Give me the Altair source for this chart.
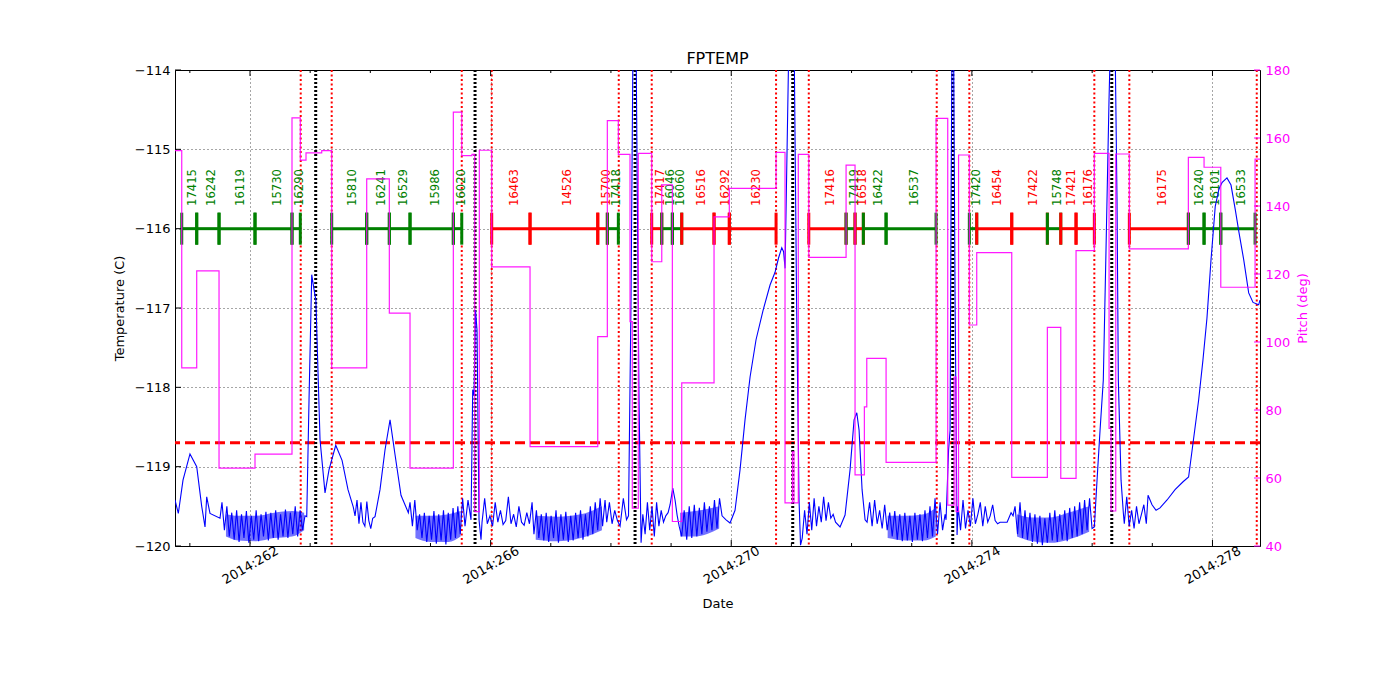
import altair as alt
import pandas as pd
import numpy as np

FONT = "DejaVu Sans"
W, H = 1085, 476

# ---------------- axes ----------------
X_DOMAIN = [260.753, 278.79]
x_major = [262, 266, 270, 274, 278]
x_minor = [261, 263, 264, 265, 267, 268, 269, 271, 272, 273, 275, 276, 277]
temp_ticks = [-120, -119, -118, -117, -116, -115, -114]
pitch_ticks = [40, 60, 80, 100, 120, 140, 160, 180]

# ---------------- reference lines ----------------
red_times = [262.843, 263.358, 265.520, 266.018, 268.130, 268.678, 270.745,
             271.289, 273.416, 273.958, 276.036, 276.618, 278.736]
black_times = [263.092, 265.741, 268.401, 271.022, 273.682, 276.326]
limit_temp = -118.7
seg_level = -116.0
label_level = -115.714

# ---------------- observations ----------------
obs_ids = ["17415", "16242", "16119", "15730", "16290",
           "15810", "16241", "16529", "15986", "16020",
           "16463", "14526", "15700", "17418",
           "17417", "16046", "16060", "16516", "16292", "16230",
           "17416", "17419", "16518", "16422", "16537",
           "17420", "16454", "17422", "15748", "17421", "16176",
           "16175", "16240", "16101", "16533"]
obs_start = [260.865, 261.114, 261.485, 262.083, 262.698,
             263.358, 263.940, 264.316, 264.660, 265.380,
             266.018, 266.655, 267.781, 267.940,
             268.678, 268.845, 269.021, 269.177, 269.714, 269.968,
             271.289, 271.909, 272.058, 272.196, 272.574,
             273.958, 274.081, 274.663, 275.255, 275.478, 275.732,
             276.618, 277.599, 277.860, 278.138]
obs_stop = [261.114, 261.485, 262.083, 262.698, 262.836,
            263.940, 264.316, 264.660, 265.380, 265.520,
            266.655, 267.781, 267.940, 268.123,
            268.845, 269.021, 269.177, 269.714, 269.968, 270.745,
            271.909, 272.058, 272.196, 272.574, 273.405,
            274.081, 274.663, 275.255, 275.478, 275.732, 276.036,
            277.599, 277.860, 278.138, 278.708]
obs_color = ["green", "green", "green", "green", "green",
             "green", "green", "green", "green", "green",
             "red", "red", "red", "green",
             "red", "green", "green", "red", "red", "red",
             "red", "green", "red", "green", "green",
             "green", "red", "red", "green", "red", "red",
             "red", "green", "green", "green"]

# ---------------- pitch (step after) ----------------
pitch_times = [260.753, 260.865, 261.114, 261.485, 262.083, 262.698, 262.836,
               262.931, 263.192, 263.358, 263.940, 264.316, 264.660, 265.380,
               265.520, 265.690, 265.736, 265.812, 266.018, 266.655, 267.781,
               267.940, 268.123, 268.317, 268.355, 268.455, 268.678, 268.845,
               269.021, 269.177, 269.714, 269.968, 270.745, 270.894, 271.017,
               271.043, 271.115, 271.289, 271.909, 272.058, 272.213, 272.253,
               272.574, 273.405, 273.599, 273.704, 273.738, 273.779, 273.958,
               274.081, 274.663, 275.255, 275.478, 275.732, 276.036, 276.281,
               276.314, 276.392, 276.618, 277.599, 277.860, 278.138, 278.708,
               278.79]
pitch_vals = [156.3, 92.4, 120.9, 62.9, 67.0, 165.9, 153.5,
              155.6, 156.3, 92.4, 148.0, 108.5, 62.9, 167.6,
              154.8, 155.2, 50.1, 156.4, 122.1, 69.2, 101.6,
              165.1, 155.2, 106.0, 51.1, 155.5, 123.6, 146.2,
              47.2, 88.0, 136.8, 145.2, 155.8, 52.7, 67.7,
              52.7, 155.2, 124.9, 152.0, 60.9, 80.9, 95.2,
              64.6, 165.8, 52.0, 89.7, 50.1, 155.0, 105.0,
              126.3, 60.2, 104.3, 59.9, 126.9, 155.5, 74.6,
              50.3, 155.3, 127.4, 154.3, 151.4, 116.1, 153.8,
              153.8]

# ---------------- temperature: smooth parts ----------------
s1_t = [260.753, 260.808, 260.886, 261.002, 261.114, 261.197, 261.252, 261.280, 261.335, 261.501]
s1_v = [-119.42, -119.59, -119.17, -118.84, -119.00, -119.50, -119.76, -119.38, -119.59, -119.65]
s2_t = [262.943, 262.981, 263.026, 263.060, 263.095, 263.164, 263.247, 263.313, 263.425, 263.530, 263.629, 263.717]
s2_v = [-119.63, -118.16, -116.58, -116.75, -116.90, -118.66, -119.33, -119.04, -118.73, -118.92, -119.29, -119.51]
s3_t = [264.078, 264.161, 264.244, 264.328, 264.411, 264.510, 264.632]
s3_v = [-119.63, -119.29, -118.79, -118.41, -118.85, -119.36, -119.58]
s4_t = [265.624, 265.674, 265.702, 265.724, 265.749, 265.774, 265.807, 265.840]
s4_v = [-119.42, -119.67, -118.03, -118.10, -117.03, -117.28, -119.67, -119.92]
s5_t = [268.206, 268.259, 268.292, 268.334, 268.367, 268.417, 268.467, 268.501]
s5_v = [-119.40, -119.67, -119.62, -116.90, -113.6, -113.6, -118.16, -119.96]
s6_t = [268.983, 269.028, 269.066, 269.100]
s6_v = [-119.48, -119.27, -119.42, -119.61]
s7_t = [269.914, 269.980, 270.063, 270.146, 270.229, 270.313, 270.412, 270.529, 270.645,
        270.728, 270.786, 270.840, 270.870, 270.895, 270.950, 270.970, 271.045, 271.086,
        271.127, 271.152]
s7_v = [-119.67, -119.71, -119.55, -119.04, -118.41, -117.87, -117.40, -117.03, -116.71,
        -116.55, -116.37, -116.24, -116.29, -116.50, -114.0, -113.6, -113.6, -116.90,
        -119.42, -119.99]
s8_t = [271.809, 271.892, 271.975, 272.042, 272.087, 272.125, 272.175, 272.225]
s8_v = [-119.76, -119.61, -119.04, -118.41, -118.32, -118.54, -119.29, -119.67]
s9_t = [273.571, 273.613, 273.638, 273.654, 273.671, 273.696, 273.721, 273.754]
s9_v = [-119.67, -118.79, -118.54, -115.64, -113.6, -113.6, -116.90, -119.86]
s10_t = [274.519, 274.586, 274.652, 274.685]
s10_v = [-119.70, -119.70, -119.58, -119.62]
s11_t = [276.036, 276.081, 276.131, 276.185, 276.230, 276.280, 276.305, 276.380, 276.413,
         276.435, 276.480, 276.518]
s11_v = [-119.76, -119.17, -118.54, -117.91, -116.27, -114.38, -113.6, -113.6, -115.64,
         -117.91, -119.17, -119.58]
s12_t = [276.929, 276.995, 277.062, 277.128, 277.245, 277.378, 277.511, 277.603, 277.660,
         277.770, 277.841, 277.908, 277.975, 278.046, 278.108, 278.158, 278.241, 278.308,
         278.379, 278.441, 278.519, 278.602, 278.674, 278.768, 278.79]
s12_v = [-119.36, -119.48, -119.55, -119.52, -119.42, -119.29, -119.19, -119.13, -118.80,
         -118.16, -117.66, -117.13, -116.40, -115.72, -115.50, -115.42, -115.36, -115.45,
         -115.76, -116.05, -116.39, -116.81, -116.93, -116.96, -116.90]

# ---------------- temperature: noisy parts (start, end, sampled values) ----------------
n1_span = (261.534, 262.914)
n1_v = [-119.45, -119.80, -119.50, -119.88, -119.58, -119.92, -119.55, -119.95, -119.60, -119.90,
        -119.56, -119.96, -119.62, -119.92, -119.55, -119.94, -119.60, -119.88, -119.57, -119.93,
        -119.58, -119.90, -119.55, -119.92, -119.60, -119.88, -119.54, -119.90, -119.58, -119.85,
        -119.50, -119.88, -119.55, -119.80, -119.62]
n2_span = (263.746, 264.040)
n2_v = [-119.62, -119.42, -119.72, -119.45, -119.70, -119.75, -119.44, -119.68, -119.78, -119.65]
n3_span = (264.660, 265.574)
n3_v = [-119.45, -119.75, -119.42, -119.80, -119.60, -119.90, -119.58, -119.95, -119.62, -119.92,
        -119.56, -119.97, -119.60, -119.93, -119.55, -119.98, -119.58, -119.92, -119.52, -119.90,
        -119.50, -119.85, -119.40, -119.75]
n4a_span = (265.857, 266.689)
n4a_v = [-119.70, -119.40, -119.72, -119.62, -119.75, -119.45, -119.70, -119.55, -119.73, -119.68,
         -119.38, -119.72, -119.60, -119.76, -119.50, -119.70, -119.74, -119.58, -119.72, -119.45]
n4b_span = (266.720, 267.902)
n4b_v = [-119.85, -119.55, -119.90, -119.60, -119.93, -119.58, -119.95, -119.62, -119.90, -119.55,
         -119.96, -119.60, -119.92, -119.57, -119.95, -119.62, -119.93, -119.58, -119.90, -119.55,
         -119.92, -119.60, -119.88, -119.50, -119.85, -119.45, -119.80, -119.40, -119.75, -119.42]
n4c_span = (267.930, 268.152)
n4c_v = [-119.70, -119.45, -119.72, -119.55, -119.68, -119.75]
n5a_span = (268.530, 268.950)
n5a_v = [-119.60, -119.85, -119.45, -119.80, -119.50, -119.88, -119.45, -119.75, -119.55, -119.70,
         -119.62, -119.58]
n5b_span = (269.134, 269.847)
n5b_v = [-119.75, -119.88, -119.55, -119.92, -119.50, -119.90, -119.48, -119.88, -119.52, -119.85,
         -119.45, -119.82, -119.50, -119.80, -119.42, -119.78, -119.40, -119.62]
n6_span = (271.180, 271.734)
n6_v = [-119.90, -119.55, -119.85, -119.45, -119.80, -119.40, -119.75, -119.50, -119.70, -119.38,
        -119.68, -119.45, -119.65, -119.60, -119.70]
n7_span = (272.258, 273.555)
n7_v = [-119.70, -119.45, -119.75, -119.42, -119.72, -119.55, -119.78, -119.48, -119.80, -119.58,
        -119.88, -119.56, -119.92, -119.60, -119.94, -119.58, -119.93, -119.62, -119.95, -119.58,
        -119.92, -119.60, -119.94, -119.55, -119.90, -119.50, -119.88, -119.40, -119.85, -119.45,
        -119.80, -119.60]
n8a_span = (273.771, 274.469)
n8a_v = [-119.50, -119.80, -119.42, -119.78, -119.55, -119.75, -119.40, -119.72, -119.60, -119.45,
         -119.75, -119.50, -119.70, -119.62, -119.48, -119.68, -119.72, -119.70]
n8b_span = (274.718, 275.998)
n8b_v = [-119.50, -119.85, -119.45, -119.90, -119.55, -119.92, -119.58, -119.95, -119.60, -119.97,
         -119.62, -119.99, -119.65, -119.96, -119.58, -119.93, -119.55, -119.95, -119.60, -119.92,
         -119.55, -119.94, -119.52, -119.90, -119.50, -119.88, -119.45, -119.85, -119.42, -119.80,
         -119.40, -119.78]
n9_span = (276.534, 276.900)
n9_v = [-119.72, -119.38, -119.75, -119.55, -119.78, -119.50, -119.72, -119.60, -119.48, -119.72]

# dense oscillation bands (day, lower envelope, upper envelope)
band_day = [261.60, 261.80, 262.10, 262.40, 262.70, 262.90,
            264.75, 265.00, 265.30, 265.50,
            266.75, 267.10, 267.50, 267.85,
            269.15, 269.40, 269.80,
            272.60, 272.90, 273.20, 273.40,
            274.75, 275.00, 275.30, 275.60, 275.95]
band_lo = [-119.88, -119.93, -119.94, -119.90, -119.88, -119.80,
           -119.90, -119.95, -119.95, -119.88,
           -119.92, -119.94, -119.90, -119.80,
           -119.88, -119.88, -119.78,
           -119.90, -119.93, -119.93, -119.88,
           -119.88, -119.94, -119.96, -119.92, -119.82]
band_hi = [-119.60, -119.62, -119.62, -119.58, -119.56, -119.58,
           -119.62, -119.62, -119.60, -119.56,
           -119.62, -119.63, -119.60, -119.50,
           -119.58, -119.56, -119.50,
           -119.62, -119.62, -119.60, -119.52,
           -119.60, -119.64, -119.64, -119.58, -119.50]
band_group = [1, 1, 1, 1, 1, 1, 2, 2, 2, 2, 3, 3, 3, 3, 4, 4, 4, 5, 5, 5, 5, 6, 6, 6, 6, 6]

# ---------------- build tables ----------------
smooth = [(s1_t, s1_v), (s2_t, s2_v), (s3_t, s3_v), (s4_t, s4_v), (s5_t, s5_v), (s6_t, s6_v),
          (s7_t, s7_v), (s8_t, s8_v), (s9_t, s9_v), (s10_t, s10_v), (s11_t, s11_v), (s12_t, s12_v)]
noisy = [(n1_span, n1_v), (n2_span, n2_v), (n3_span, n3_v), (n4a_span, n4a_v), (n4b_span, n4b_v),
         (n4c_span, n4c_v), (n5a_span, n5a_v), (n5b_span, n5b_v), (n6_span, n6_v), (n7_span, n7_v),
         (n8a_span, n8a_v), (n8b_span, n8b_v), (n9_span, n9_v)]
tt, vv = [], []
for t, v in smooth:
    tt += list(t)
    vv += list(v)
for (a, b), v in noisy:
    tt += list(np.linspace(a, b, len(v)))
    vv += list(v)
temp_df = pd.DataFrame({"day": tt, "temp": vv}).sort_values("day").reset_index(drop=True)
temp_df["i"] = range(len(temp_df))

band_df = pd.DataFrame({"day": band_day, "temp": band_lo, "temp2": band_hi, "g": band_group})

obs_df = pd.DataFrame({"obsid": obs_ids, "start": obs_start, "stop": obs_stop, "color": obs_color})
obs_df["temp"] = seg_level
obs_df["mid"] = (obs_df["start"] + obs_df["stop"]) / 2
obs_df["ly"] = label_level

tick_rows = []
for k in range(len(obs_ids)):
    tick_rows.append({"day": obs_start[k], "temp": seg_level, "color": obs_color[k], "o": 2 * k})
    tick_rows.append({"day": obs_stop[k], "temp": seg_level, "color": obs_color[k], "o": 2 * k + 1})
otick_df = pd.DataFrame(tick_rows)

pitch_df = pd.DataFrame({"day": pitch_times, "pitch": pitch_vals})

# ---------------- scales & axes ----------------
xscale = alt.Scale(domain=X_DOMAIN, nice=False, zero=False)
ylscale = alt.Scale(domain=[-120, -114], nice=False, zero=False)
yrscale = alt.Scale(domain=[40, 180], nice=False, zero=False)

x_axis = alt.Axis(values=x_major, labelExpr="'2014:' + datum.value", labelAngle=-30,
                  labelAlign="center", labelBaseline="middle", labelPadding=19, labelFlush=False,
                  ticks=False, domain=False, grid=True, gridDash=[1, 3],
                  gridColor="black", gridWidth=0.7, gridOpacity=1, title="Date",
                  titleFontSize=13, titleFontWeight="normal", titlePadding=11,
                  labelFontSize=13, labelColor="black", titleColor="black",
                  labelFont=FONT, titleFont=FONT)
yl_axis = alt.Axis(values=temp_ticks, format="d", title="Temperature (C)", grid=True,
                   gridDash=[1, 3], gridColor="black", gridWidth=0.7, gridOpacity=1,
                   ticks=False, domain=False, labelPadding=5, labelFlush=False,
                   labelFontSize=13, labelFont=FONT, labelColor="black", titleFont=FONT,
                   titleFontSize=13, titleFontWeight="normal", titleColor="black",
                   titlePadding=8)
yr_axis = alt.Axis(orient="right", values=pitch_ticks, format="d", title="Pitch (deg)",
                   grid=False, ticks=False, domain=False, labelPadding=5,
                   labelFlush=False, labelFontSize=13, labelFont=FONT, labelColor="#ff00ff",
                   titleFont=FONT, titleFontSize=13, titleFontWeight="normal",
                   titleColor="#ff00ff", titleAngle=270, titlePadding=20)


def X(field):
    return alt.X(field, type="quantitative", scale=xscale, axis=x_axis)


def YL(field):
    return alt.Y(field, type="quantitative", scale=ylscale, axis=yl_axis)


def YR(field):
    return alt.Y(field, type="quantitative", scale=yrscale, axis=yr_axis)


# ---------------- left layers ----------------
hline = alt.Chart(pd.DataFrame({"temp": [limit_temp]})).mark_rule(
    color="#ff0000", strokeDash=[10, 5], strokeWidth=3
).encode(y=YL("temp"))

red_rules = alt.Chart(pd.DataFrame({"day": red_times})).mark_rule(
    color="#ff0000", strokeDash=[2, 2.5], strokeWidth=2
).encode(x=X("day"))

black_rules = alt.Chart(pd.DataFrame({"day": black_times})).mark_rule(
    color="black", strokeDash=[2, 2], strokeWidth=3
).encode(x=X("day"))

segs = alt.Chart(obs_df).mark_rule(strokeWidth=3).encode(
    x=X("start"), x2="stop", y=YL("temp"), color=alt.Color("color:N", scale=None)
)

oticks = alt.Chart(otick_df).mark_tick(orient="vertical", size=32, thickness=3, opacity=1).encode(
    x=X("day"), y=YL("temp"), color=alt.Color("color:N", scale=None), order=alt.Order("o:Q")
)

labels = alt.Chart(obs_df).mark_text(
    angle=270, align="left", baseline="middle", dy=4, fontSize=11.6, font=FONT
).encode(x=X("mid"), y=YL("ly"), text="obsid:N", color=alt.Color("color:N", scale=None))

band = alt.Chart(band_df).mark_area(color="#0000ff", opacity=0.55, interpolate="monotone").encode(
    x=X("day"), y=YL("temp"), y2="temp2", detail="g:N"
)

temp_line = alt.Chart(temp_df).mark_line(color="#0000ff", strokeWidth=1.1, clip=True).encode(
    x=X("day"), y=YL("temp"), order=alt.Order("i:Q")
)

major_df = pd.DataFrame({"day": x_major})
minor_df = pd.DataFrame({"day": x_minor})
xt1 = alt.Chart(major_df).mark_rule(color="black").encode(x=X("day"), y=alt.value(0), y2=alt.value(6))
xt2 = alt.Chart(major_df).mark_rule(color="black").encode(x=X("day"), y=alt.value(H), y2=alt.value(H - 6))
xt3 = alt.Chart(minor_df).mark_rule(color="black").encode(x=X("day"), y=alt.value(0), y2=alt.value(3))
xt4 = alt.Chart(minor_df).mark_rule(color="black").encode(x=X("day"), y=alt.value(H), y2=alt.value(H - 3))
ylt = alt.Chart(pd.DataFrame({"temp": temp_ticks})).mark_rule(color="black").encode(
    y=YL("temp"), x=alt.value(0), x2=alt.value(6)
)

left = alt.layer(hline, red_rules, black_rules, segs, oticks, labels, band, temp_line,
                 xt1, xt2, xt3, xt4, ylt)

# ---------------- right layers ----------------
pitch_line = alt.Chart(pitch_df).mark_line(
    color="#ff00ff", strokeWidth=1.2, opacity=0.9, interpolate="step-after", clip=True
).encode(x=X("day"), y=YR("pitch"))

yrt = alt.Chart(pd.DataFrame({"pitch": pitch_ticks})).mark_rule(color="#ff00ff").encode(
    y=YR("pitch"), x=alt.value(W - 6), x2=alt.value(W)
)

right = alt.layer(pitch_line, yrt)

chart = alt.layer(left, right).resolve_scale(y="independent").properties(
    width=W, height=H,
    title=alt.TitleParams("FPTEMP", fontSize=16, font=FONT, fontWeight="normal", offset=6,
                          dy=9, color="black", frame="group"),
    autosize=alt.AutoSizeParams(type="none"),
    padding={"left": 167, "top": 62, "right": 120, "bottom": 130},
    background="white",
).configure_view(stroke="black", strokeWidth=1)

chart.save("out.html", embed_options={"renderer": "svg", "actions": False})
